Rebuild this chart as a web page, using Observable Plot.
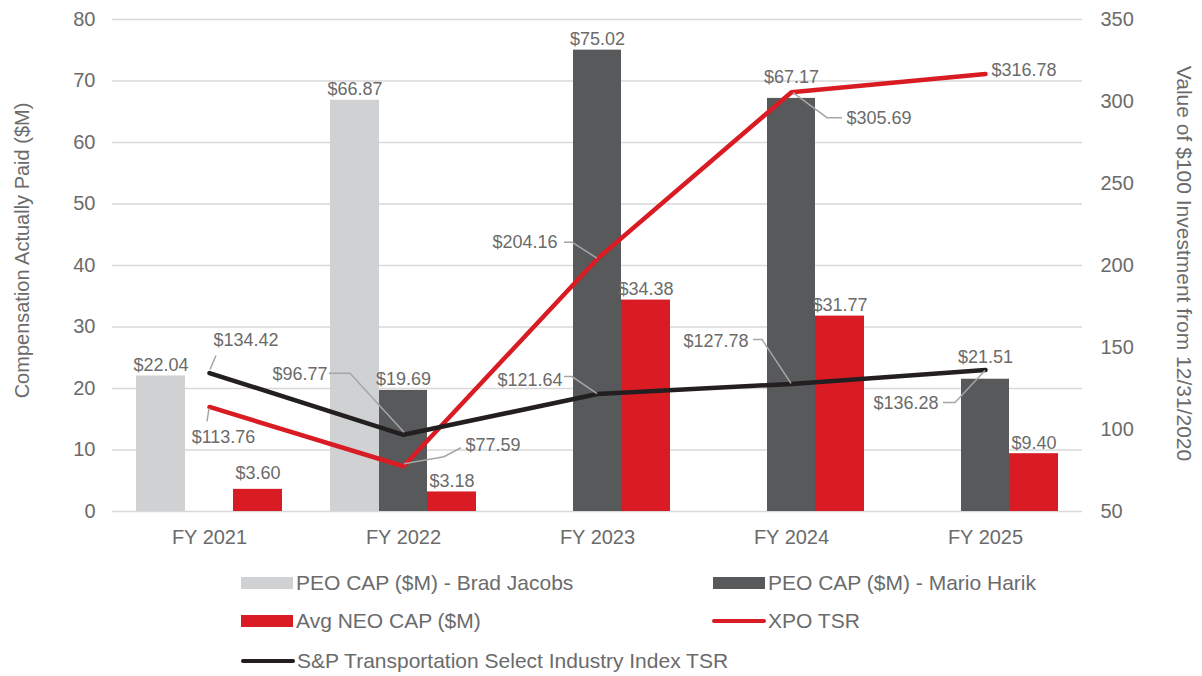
<!DOCTYPE html>
<html><head><meta charset="utf-8">
<script src="https://cdn.jsdelivr.net/npm/d3@7"></script>
<script src="https://cdn.jsdelivr.net/npm/@observablehq/plot@0.6"></script>
<style>
body{margin:0;background:#fff;font-family:"Liberation Sans",Arial,sans-serif;}
#legend{position:relative;height:116px;width:1202px;color:#6b6b6b;font-size:21px}
.item{position:absolute;display:flex;align-items:center;height:24px;transform:translateY(-50%);white-space:nowrap}
.sw{width:52px;height:12px;margin-right:3px}
.ln{width:54px;height:4px;border-radius:2px;margin-right:2px}
</style></head><body>
<div id="chart"></div><div id="legend"></div>
<script>
const years = ["FY 2021","FY 2022","FY 2023","FY 2024","FY 2025"];
const bradJacobs = [22.04, 66.87, null, null, null];
const marioHarik = [null, 19.69, 75.02, 67.17, 21.51];
const avgNeo = [3.60, 3.18, 34.38, 31.77, 9.40];
const xpoTsr = [113.76, 77.59, 204.16, 305.69, 316.78];
const spTsr = [134.42, 96.77, 121.64, 127.78, 136.28];
const leftTicks = [0, 10, 20, 30, 40, 50, 60, 70, 80];
const rightTicks = [50, 100, 150, 200, 250, 300, 350];
const seriesNames = ["PEO CAP ($M) - Brad Jacobs","PEO CAP ($M) - Mario Harik","Avg NEO CAP ($M)","XPO TSR","S&P Transportation Select Industry Index TSR"];

const C = {light:"#d0d1d3", dark:"#58595b", red:"#d91c24", black:"#231f20", text:"#6b6b6b", grid:"#d9d9d9", leader:"#a6a6a6"};
// secondary axis (50..350) mapped onto primary (0..80)
const toLeft = v => (v - 50) * 80 / 300;
const fromLeft = v => v * 300 / 80 + 50;
const fmt = v => "$" + v.toFixed(2);

const rows = years.map((year, i) => ({year, brad: bradJacobs[i], mario: marioHarik[i], neo: avgNeo[i], xpo: xpoTsr[i], sp: spTsr[i]}));

// label placement styles (pixel offsets from data point) and leader polylines
const xpoLab = [
  {dx: 14, dy: 30, anchor: "middle", lead: [[0,2],[-2,15]]},
  {dx: 62, dy: -21, anchor: "start", lead: [[1,-2],[41,-9],[58,-18]]},
  {dx: -40, dy: -16, anchor: "end", lead: [[0,0],[-25,-16],[-33,-16]]},
  {dx: 55, dy: 26, anchor: "start", lead: [[2,1],[36,26],[51,26]]},
  {dx: 6, dy: -4, anchor: "start", lead: null}
];
const spLab = [
  {dx: 4, dy: -33, anchor: "start", lead: [[1,-3],[7,-17]]},
  {dx: -76, dy: -61, anchor: "end", lead: [[1,-2],[-53,-61],[-74,-61]]},
  {dx: -35, dy: -14, anchor: "end", lead: [[0,0],[-25,-17],[-33,-17]]},
  {dx: -43, dy: -43, anchor: "end", lead: [[0,0],[-29,-44],[-38,-44]]},
  {dx: -47, dy: 33, anchor: "end", lead: [[0,1],[-30,33],[-42,33]]}
];
// extra lift for a few bar labels (style only)
const barLift = {"mario|FY 2024": 10, "mario|FY 2025": 11, "neo|FY 2021": 5};

const barLabels = (key, dx) => rows.filter(d => d[key] != null).map(d => Plot.text([d], {
  x: "year", y: key, text: r => fmt(r[key]), dx, dy: -5 - (barLift[key + "|" + d.year] || 0),
  lineAnchor: "bottom", fontSize: 18, fill: C.text
}));

const lineLabels = (key, styles) => rows.map((d, i) => Plot.text([d], {
  x: "year", y: r => toLeft(r[key]), text: r => fmt(r[key]), dx: styles[i].dx, dy: styles[i].dy,
  textAnchor: styles[i].anchor, lineAnchor: "middle", fontSize: 18, fill: C.text
}));

const plot = Plot.plot({
  width: 1202, height: 560,
  marginLeft: 112, marginRight: 120, marginTop: 19, marginBottom: 49,
  style: {fontFamily: "Liberation Sans, Arial, sans-serif", fontSize: "20px", color: C.text, background: "#fff"},
  x: {domain: years, padding: 0, label: null},
  y: {domain: [0, 80], label: null},
  marks: [
    Plot.gridY(leftTicks, {stroke: C.grid, strokeOpacity: 1, strokeWidth: 1.5}),
    Plot.axisY(leftTicks, {anchor: "left", tickSize: 0, tickPadding: 17, label: null, fontSize: 20, fill: C.text}),
    Plot.axisY(rightTicks.map(toLeft), {anchor: "right", tickSize: 0, tickPadding: 18, label: null, fontSize: 20, fill: C.text, tickFormat: d => String(Math.round(fromLeft(d)))}),
    Plot.axisX({tickSize: 0, tickPadding: 18, label: null, fontSize: 20, fill: C.text}),
    Plot.text(["Compensation Actually Paid ($M)"], {frameAnchor: "left", dx: -90, dy: -15, rotate: -90, textAnchor: "middle", fontSize: 20, fill: C.text}),
    Plot.text(["Value of $100 Investment from 12/31/2020"], {frameAnchor: "right", dx: 101, dy: -2, rotate: 90, textAnchor: "middle", fontSize: 21, fill: C.text}),
    Plot.barY(rows.filter(d => d.brad != null), {x: "year", y: "brad", fill: C.light, insetLeft: 24, insetRight: 121}),
    Plot.barY(rows.filter(d => d.mario != null), {x: "year", y: "mario", fill: C.dark, insetLeft: 73, insetRight: 73}),
    Plot.barY(rows, {x: "year", y: "neo", fill: C.red, insetLeft: 121, insetRight: 24}),
    ...barLabels("brad", -48.5),
    ...barLabels("mario", 0),
    ...barLabels("neo", 48.5),
    Plot.line(rows, {x: "year", y: d => toLeft(d.xpo), stroke: C.red, strokeWidth: 4.5, strokeLinecap: "round", strokeLinejoin: "round"}),
    Plot.line(rows, {x: "year", y: d => toLeft(d.sp), stroke: C.black, strokeWidth: 4.5, strokeLinecap: "round", strokeLinejoin: "round"}),
    ...lineLabels("xpo", xpoLab),
    ...lineLabels("sp", spLab)
  ]
});
document.getElementById("chart").appendChild(plot);

// leader lines drawn through the plot's own scales
const xs = plot.scale("x"), ys = plot.scale("y");
const g = d3.select(plot).append("g").attr("fill", "none").attr("stroke", C.leader).attr("stroke-width", 1.5);
[[xpoTsr, xpoLab], [spTsr, spLab]].forEach(([vals, labs]) => {
  vals.forEach((v, i) => {
    if (!labs[i].lead) return;
    const px = xs.apply(years[i]) + xs.bandwidth / 2, py = ys.apply(toLeft(v));
    g.append("path").attr("d", d3.line()(labs[i].lead.map(([a, b]) => [px + a, py + b])));
  });
});

// legend
const legend = document.getElementById("legend");
const items = [
  {name: seriesNames[0], cls: "sw", color: C.light, left: 241, top: 23},
  {name: seriesNames[1], cls: "sw", color: C.dark, left: 713, top: 23},
  {name: seriesNames[2], cls: "sw", color: C.red, left: 241, top: 61},
  {name: seriesNames[3], cls: "ln", color: C.red, left: 712, top: 61},
  {name: seriesNames[4], cls: "ln", color: C.black, left: 241, top: 101}
];
items.forEach(it => {
  const el = document.createElement("div");
  el.className = "item";
  el.style.left = it.left + "px";
  el.style.top = it.top + "px";
  const sw = document.createElement("span");
  sw.className = it.cls;
  sw.style.background = it.color;
  const t = document.createElement("span");
  t.textContent = it.name;
  el.appendChild(sw); el.appendChild(t);
  legend.appendChild(el);
});
</script>
</body></html>
